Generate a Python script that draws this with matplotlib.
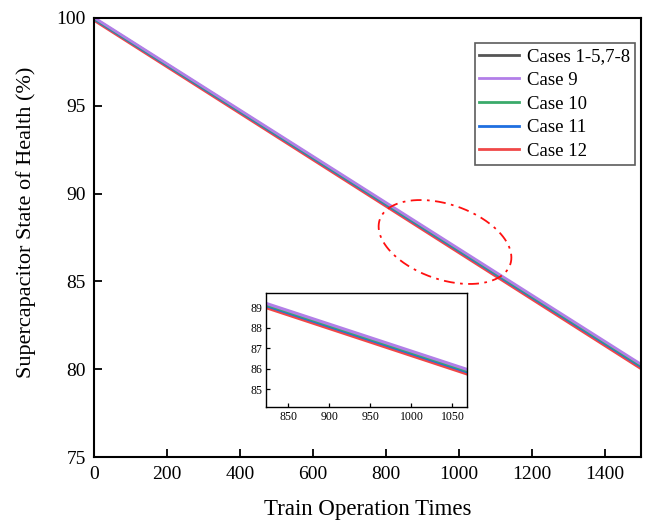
import numpy as np
import matplotlib
matplotlib.use("Agg")
import matplotlib.pyplot as plt

plt.rcParams['font.family'] = ['Liberation Serif', 'DejaVu Serif']
plt.rcParams['mathtext.fontset'] = 'stix'

# Data: SoH (%) vs train operation times (linear degradation)
x_times = [0, 1500]
labels = ["Cases 1-5,7-8", "Case 9", "Case 10", "Case 11", "Case 12"]
soh_cases_1_8 = [99.92, 80.16]
soh_case_9 = [100.0, 80.29]
soh_case_10 = [99.96, 80.22]
soh_case_11 = [99.92, 80.16]
soh_case_12 = [99.84, 80.04]
series = [soh_cases_1_8, soh_case_9, soh_case_10, soh_case_11, soh_case_12]
colors = ["#555555", "#b27ee8", "#3aaa6a", "#1f6fe0", "#f04848"]
zorders = [2, 6, 5, 4, 3]

x_ticks = [0, 200, 400, 600, 800, 1000, 1200, 1400]
y_ticks = [75, 80, 85, 90, 95, 100]
inset_x_ticks = [850, 900, 950, 1000, 1050]
inset_y_ticks = [85, 86, 87, 88, 89]

fig = plt.figure(figsize=(6.5, 5.23), dpi=100)
ax = fig.add_axes([94.3 / 650, 1 - 457.3 / 523, (641 - 94.3) / 650, (457.3 - 17.7) / 523])
for s, c, l, z in zip(series, colors, labels, zorders):
    ax.plot(x_times, s, color=c, lw=2.0, label=l, zorder=z)
ax.set_xlim(0, 1500)
ax.set_ylim(75, 100)
ax.set_xticks(x_ticks)
ax.set_yticks(y_ticks)
ax.tick_params(direction='in', length=6, width=1.3, labelsize=14, pad=6)
for sp in ax.spines.values():
    sp.set_linewidth(1.5)
    sp.set_zorder(10)
ax.set_xlabel("Train Operation Times", fontsize=16.5, labelpad=12)
ax.set_ylabel("Supercapacitor State of Health (%)", fontsize=16)
ax.yaxis.set_label_coords(-0.106, 0.535)
leg = ax.legend(loc='upper right', bbox_to_anchor=(0.989, 0.9417), fontsize=13.5,
                frameon=True, fancybox=False, edgecolor='#333333',
                handlelength=2.1, borderpad=0.25, labelspacing=0.35, handletextpad=0.45,
                borderaxespad=0)
leg.get_frame().set_linewidth(1.2)
leg.set_zorder(20)

# Dash-dot ellipse (in figure pixel space)
cx, cy = 445 / 650, 1 - 242 / 523
a, b, ang = 69.0, 37.5, np.deg2rad(-19)
t = np.linspace(0, 2 * np.pi, 300)
ex = a * np.cos(t) * np.cos(ang) - b * np.sin(t) * np.sin(ang)
ey = a * np.cos(t) * np.sin(ang) + b * np.sin(t) * np.cos(ang)
fig.lines.append(plt.Line2D(cx + ex / 650, cy + ey / 523, transform=fig.transFigure,
                            color='#ff1010', lw=1.3, ls=(0, (6, 3, 1.5, 3))))

# Inset
axi = fig.add_axes([0.4097, 0.2224, 0.309, 0.2168])
for s, c, z in zip(series, colors, zorders):
    axi.plot(x_times, s, color=c, lw=2.2, zorder=z)
axi.set_xlim(823, 1068)
axi.set_ylim(84.15, 89.68)
axi.set_xticks(inset_x_ticks)
axi.set_yticks(inset_y_ticks)
axi.tick_params(direction='in', length=3, width=0.9, labelsize=8.5, pad=3)
for sp in axi.spines.values():
    sp.set_linewidth(1.0)
    sp.set_zorder(10)

fig.savefig("out.png", dpi=100)
